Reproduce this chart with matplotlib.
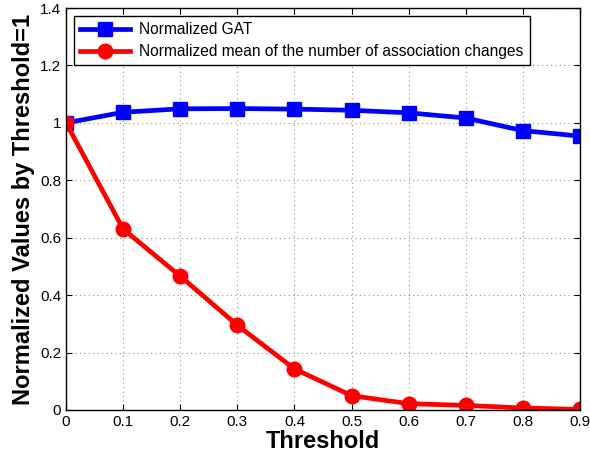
import matplotlib
matplotlib.use("Agg")
import matplotlib.pyplot as plt

plt.rcParams['font.family'] = ['Liberation Sans', 'DejaVu Sans']

thresholds = [0, 0.1, 0.2, 0.3, 0.4, 0.5, 0.6, 0.7, 0.8, 0.9]
gat = [1.0, 1.037, 1.049, 1.050, 1.048, 1.044, 1.035, 1.017, 0.973, 0.954]
assoc_changes = [1.0, 0.630, 0.466, 0.295, 0.143, 0.050, 0.022, 0.016, 0.007, 0.002]

x_ticks = [0, 0.1, 0.2, 0.3, 0.4, 0.5, 0.6, 0.7, 0.8, 0.9]
x_ticklabels = ['0', '0.1', '0.2', '0.3', '0.4', '0.5', '0.6', '0.7', '0.8', '0.9']
y_ticks = [0, 0.2, 0.4, 0.6, 0.8, 1.0, 1.2, 1.4]
y_ticklabels = ['0', '0.2', '0.4', '0.6', '0.8', '1', '1.2', '1.4']

fig = plt.figure(figsize=(5.9, 4.62), dpi=100)
ax = fig.add_axes([0.112, 0.1126, 0.871, 0.870])

ax.plot(thresholds, gat, color='#0000ff', marker='s', linewidth=3.4,
        markersize=9.5, label='Normalized GAT')
ax.plot(thresholds, assoc_changes, color='#ff0000', marker='o', linewidth=3.4,
        markersize=10.5, label='Normalized mean of the number of association changes')

ax.set_xlim(0, 0.9)
ax.set_ylim(0, 1.4)
ax.set_xticks(x_ticks)
ax.set_xticklabels(x_ticklabels)
ax.set_yticks(y_ticks)
ax.set_yticklabels(y_ticklabels)
ax.tick_params(direction='in', top=True, right=True, labelsize=11, length=4)
ax.grid(True, linestyle=(0, (1, 3)), color='#909090', linewidth=0.8)
for s in ax.spines.values():
    s.set_linewidth(1.0)

ax.set_xlabel('Threshold', fontsize=17, fontweight='bold', labelpad=1)
ax.set_ylabel('Normalized Values by Threshold=1', fontsize=17, fontweight='bold', labelpad=4)

leg = ax.legend(loc='upper left', fontsize=11.2, fancybox=False, framealpha=1,
                edgecolor='black', borderaxespad=0.5, handlelength=3.2,
                borderpad=0.4, labelspacing=0.45, handletextpad=0.6)
leg.get_frame().set_linewidth(1.0)

fig.savefig('out.png', dpi=100)
